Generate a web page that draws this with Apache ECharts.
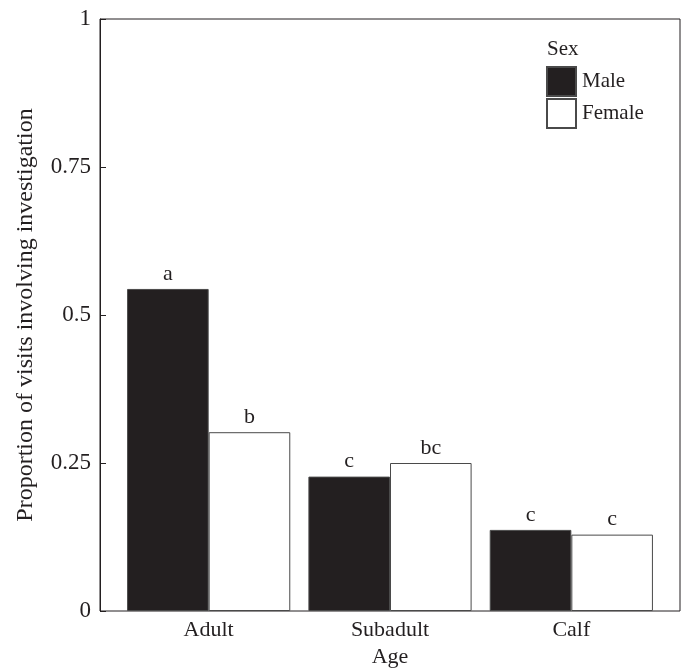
<!DOCTYPE html>
<html>
<head>
<meta charset="utf-8">
<script src="https://cdn.jsdelivr.net/npm/echarts@6/dist/echarts.min.js"></script>
<style>
html,body{margin:0;padding:0;background:#fff;}
#chart{width:686px;height:668px;}
</style>
</head>
<body>
<div id="chart"></div>
<script>
var ages = ['Adult', 'Subadult', 'Calf'];
var maleValues = [0.544, 0.227, 0.137];
var femaleValues = [0.302, 0.25, 0.129];
var maleLetters = ['a', 'c', 'c'];
var femaleLetters = ['b', 'bc', 'c'];
var yTicks = [0, 0.25, 0.5, 0.75, 1];

var FONT = 'Liberation Serif';
var INK = '#231f20';
var chart = echarts.init(document.getElementById('chart'), null, {renderer: 'canvas'});

chart.setOption({
  animation: false,
  backgroundColor: '#ffffff',
  textStyle: {fontFamily: FONT, color: INK},
  title: {
    text: 'Sex', left: 542, top: 34,
    textStyle: {fontFamily: FONT, fontSize: 21, fontWeight: 'normal', color: INK}
  },
  legend: {
    orient: 'vertical', left: 541, top: 61, itemWidth: 29, itemHeight: 29, itemGap: 1,
    icon: 'rect',
    textStyle: {fontFamily: FONT, fontSize: 21, color: INK, padding: [0, 0, 0, 1]},
    data: ['Male', 'Female']
  },
  grid: [
    {left: 100, top: 19, width: 580, height: 592, show: true, borderColor: INK, borderWidth: 1,
     backgroundColor: 'transparent', containLabel: false, outerBoundsMode: 'none'},
    {left: 118, top: 19, width: 544, height: 592, containLabel: false, outerBoundsMode: 'none'}
  ],
  xAxis: [
    {gridIndex: 0, type: 'value', min: 0, max: 1, show: false},
    {gridIndex: 1, type: 'category', data: ages,
     axisLine: {show: false}, axisTick: {show: false},
     axisLabel: {fontFamily: FONT, fontSize: 22, color: INK, margin: 8},
     name: 'Age', nameLocation: 'middle', nameGap: 35,
     nameTextStyle: {fontFamily: FONT, fontSize: 22, color: INK}}
  ],
  yAxis: [
    {gridIndex: 0, type: 'value', min: 0, max: 1, interval: 0.25,
     axisLine: {show: true, lineStyle: {color: INK, width: 1}},
     axisTick: {show: true, inside: true, length: 6, lineStyle: {color: INK}},
     splitLine: {show: false},
     axisLabel: {fontFamily: FONT, fontSize: 23, color: INK, margin: 9,
       formatter: function (v) { return yTicks.indexOf(v) >= 0 ? String(v) : ''; }},
     name: 'Proportion of visits involving investigation', nameLocation: 'middle', nameGap: 62,
     nameTextStyle: {fontFamily: FONT, fontSize: 24, color: INK}},
    {gridIndex: 1, type: 'value', min: 0, max: 1, show: false}
  ],
  series: [
    {name: 'Male', type: 'bar', xAxisIndex: 1, yAxisIndex: 1, data: maleValues,
     barGap: '0%', barCategoryGap: '10%',
     itemStyle: {color: INK, borderColor: '#4a4a4a', borderWidth: 1},
     label: {show: true, position: 'top', distance: 4, fontFamily: FONT, fontSize: 22, color: INK,
       formatter: function (p) { return maleLetters[p.dataIndex]; }}},
    {name: 'Female', type: 'bar', xAxisIndex: 1, yAxisIndex: 1, data: femaleValues,
     barGap: '0%', barCategoryGap: '10%',
     itemStyle: {color: '#ffffff', borderColor: '#4a4a4a', borderWidth: 1},
     label: {show: true, position: 'top', distance: 4, fontFamily: FONT, fontSize: 22, color: INK,
       formatter: function (p) { return femaleLetters[p.dataIndex]; }}}
  ]
});
</script>
</body>
</html>
